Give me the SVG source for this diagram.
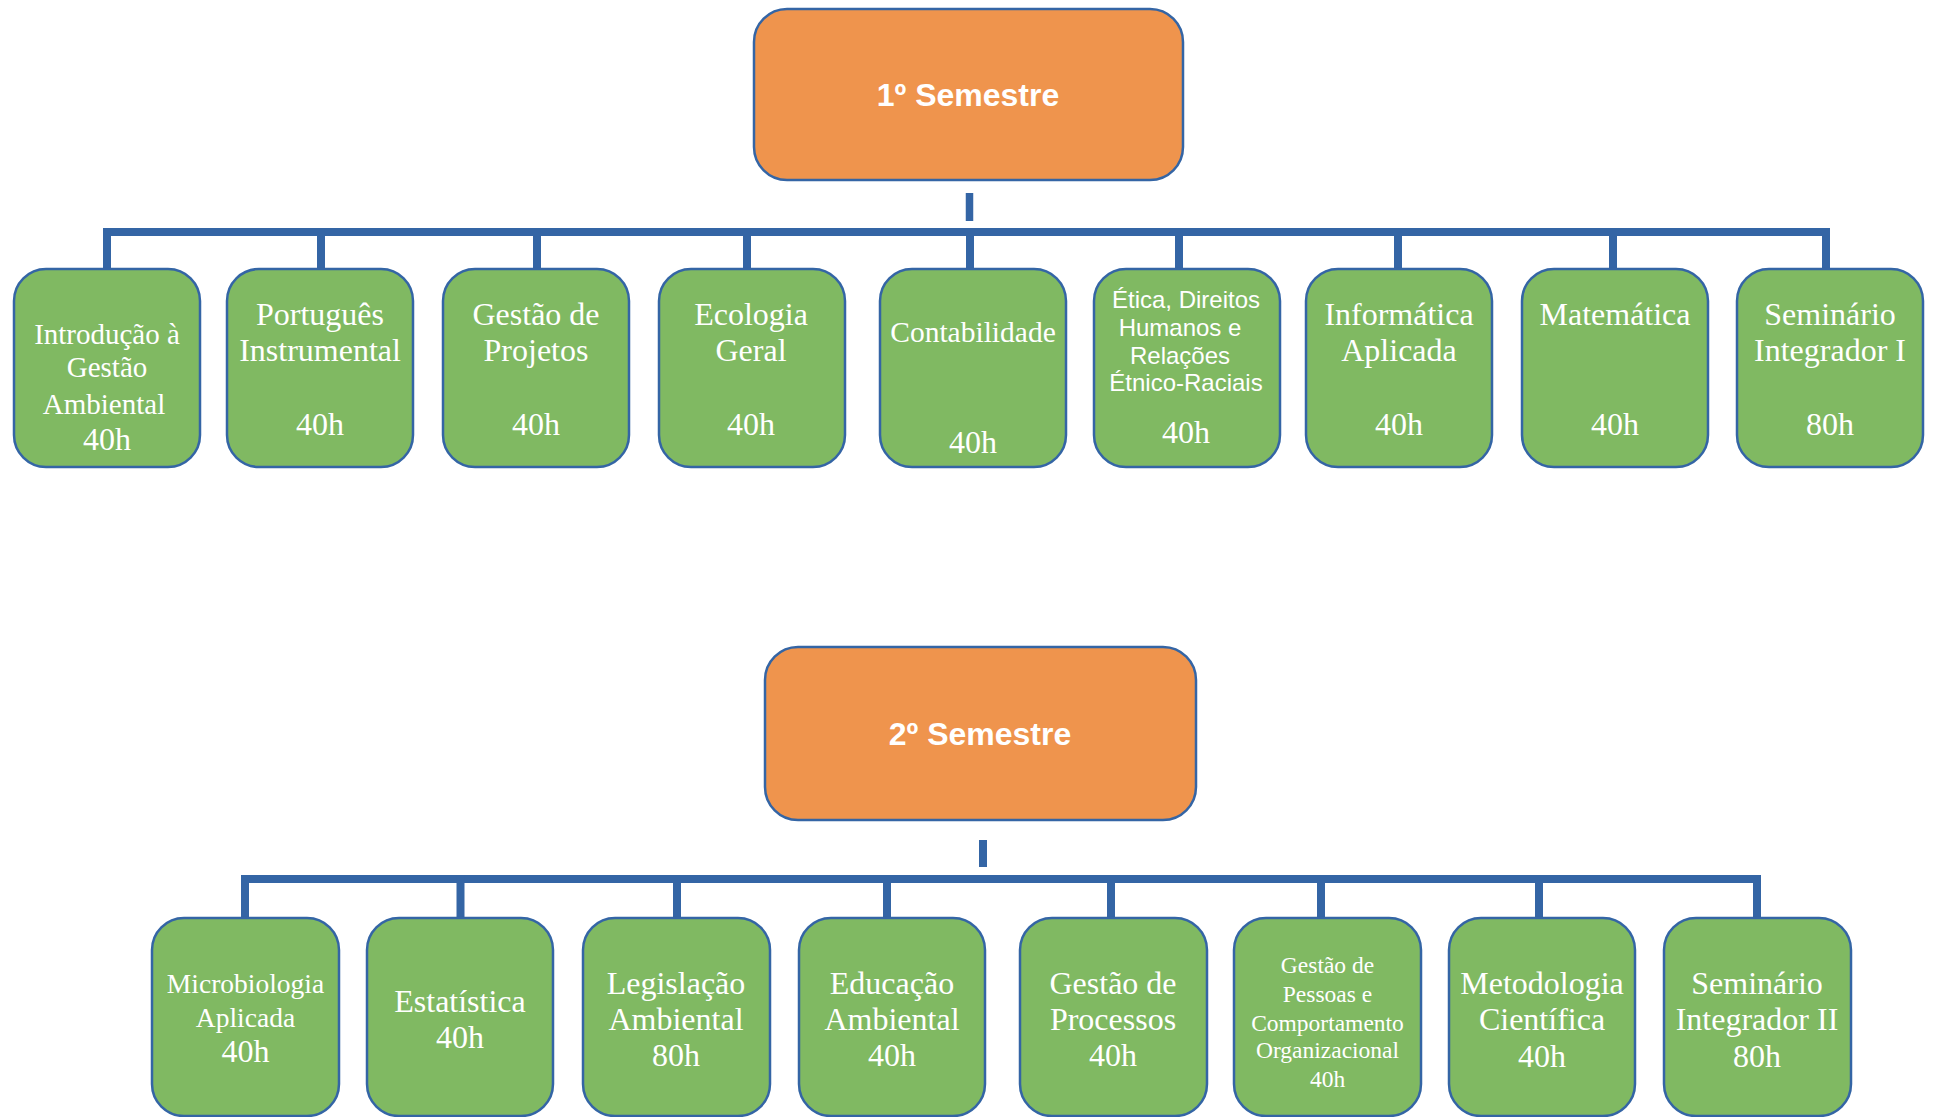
<svg xmlns="http://www.w3.org/2000/svg" width="1933" height="1117" viewBox="0 0 1933 1117">
<style>
.sem{fill:#ef944d;stroke:#3465a5;stroke-width:2.5}
.box{fill:#80b962;stroke:#3465a5;stroke-width:2.5}
.conn line{stroke:#3465a5;stroke-width:8;stroke-linecap:butt}
.t{font-family:"Liberation Serif","Times New Roman",serif;font-size:32px;fill:#fff;text-anchor:middle}
.t29{font-size:29px}
.t23{font-size:23.5px}
.s{font-family:"Liberation Sans",Arial,sans-serif;font-size:24px;fill:#fff;text-anchor:middle}
.h{font-family:"Liberation Sans",Arial,sans-serif;font-size:32px;font-weight:bold;fill:#fff;text-anchor:middle}
</style>
<rect width="1933" height="1117" fill="#fff"/>
<g id="connectors" class="conn">
<line x1="969.5" y1="193" x2="969.5" y2="221" style="stroke-width:7.5"/>
<line x1="103" y1="232" x2="1830" y2="232"/>
<line x1="107" y1="228" x2="107" y2="270"/>
<line x1="321" y1="228" x2="321" y2="270"/>
<line x1="537" y1="228" x2="537" y2="270"/>
<line x1="747" y1="228" x2="747" y2="270"/>
<line x1="970" y1="228" x2="970" y2="270"/>
<line x1="1179" y1="228" x2="1179" y2="270"/>
<line x1="1398" y1="228" x2="1398" y2="270"/>
<line x1="1613" y1="228" x2="1613" y2="270"/>
<line x1="1826" y1="228" x2="1826" y2="270"/>
<line x1="983" y1="840" x2="983" y2="867"/>
<line x1="241" y1="879" x2="1761" y2="879"/>
<line x1="245" y1="875" x2="245" y2="919"/>
<line x1="460.5" y1="875" x2="460.5" y2="919"/>
<line x1="677" y1="875" x2="677" y2="919"/>
<line x1="887" y1="875" x2="887" y2="919"/>
<line x1="1111" y1="875" x2="1111" y2="919"/>
<line x1="1321" y1="875" x2="1321" y2="919"/>
<line x1="1539" y1="875" x2="1539" y2="919"/>
<line x1="1757" y1="875" x2="1757" y2="919"/>
</g>
<g id="sem1"><rect class="sem" x="754" y="9" width="429" height="171" rx="33"/><text class="h" x="968" y="106">1º Semestre</text></g>
<g id="n1"><rect class="box" x="14" y="269" width="186" height="198" rx="32"/><text class="t"><tspan class="t29" x="107" y="344">Introdução à</tspan><tspan class="t29" x="107" y="377">Gestão</tspan><tspan class="t29" x="104" y="414">Ambiental</tspan><tspan x="107" y="450">40h</tspan></text></g>
<g id="n2"><rect class="box" x="227" y="269" width="186" height="198" rx="32"/><text class="t"><tspan x="320" y="325">Português</tspan><tspan x="320" y="361">Instrumental</tspan><tspan x="320" y="435">40h</tspan></text></g>
<g id="n3"><rect class="box" x="443" y="269" width="186" height="198" rx="32"/><text class="t"><tspan x="536" y="325">Gestão de</tspan><tspan x="536" y="361">Projetos</tspan><tspan x="536" y="435">40h</tspan></text></g>
<g id="n4"><rect class="box" x="659" y="269" width="186" height="198" rx="32"/><text class="t"><tspan x="751" y="325">Ecologia</tspan><tspan x="751" y="361">Geral</tspan><tspan x="751" y="435">40h</tspan></text></g>
<g id="n5"><rect class="box" x="880" y="269" width="186" height="198" rx="32"/><text class="t"><tspan style="font-size:29.5px" x="973" y="342">Contabilidade</tspan><tspan x="973" y="453">40h</tspan></text></g>
<g id="n6"><rect class="box" x="1094" y="269" width="186" height="198" rx="32"/><text class="s"><tspan x="1186" y="308">Ética, Direitos</tspan><tspan x="1180" y="336">Humanos e</tspan><tspan x="1180" y="364">Relações</tspan><tspan x="1186" y="391">Étnico-Raciais</tspan></text><text class="t" x="1186" y="443">40h</text></g>
<g id="n7"><rect class="box" x="1306" y="269" width="186" height="198" rx="32"/><text class="t"><tspan x="1399" y="325">Informática</tspan><tspan x="1399" y="361">Aplicada</tspan><tspan x="1399" y="435">40h</tspan></text></g>
<g id="n8"><rect class="box" x="1522" y="269" width="186" height="198" rx="32"/><text class="t"><tspan x="1615" y="325">Matemática</tspan><tspan x="1615" y="435">40h</tspan></text></g>
<g id="n9"><rect class="box" x="1737" y="269" width="186" height="198" rx="32"/><text class="t"><tspan x="1830" y="325">Seminário</tspan><tspan x="1830" y="361">Integrador I</tspan><tspan x="1830" y="435">80h</tspan></text></g>
<g id="sem2"><rect class="sem" x="765" y="647" width="431" height="173" rx="33"/><text class="h" x="980" y="745">2º Semestre</text></g>
<g id="m1"><rect class="box" x="152" y="918" width="187" height="198" rx="32"/><text class="t"><tspan style="font-size:27.5px" x="245.5" y="993">Microbiologia</tspan><tspan style="font-size:27.5px" x="245.5" y="1027">Aplicada</tspan><tspan x="245.5" y="1062">40h</tspan></text></g>
<g id="m2"><rect class="box" x="367" y="918" width="186" height="198" rx="32"/><text class="t"><tspan x="460" y="1012">Estatística</tspan><tspan x="460" y="1048">40h</tspan></text></g>
<g id="m3"><rect class="box" x="583" y="918" width="187" height="198" rx="32"/><text class="t"><tspan x="676" y="994">Legislação</tspan><tspan x="676" y="1030">Ambiental</tspan><tspan x="676" y="1066">80h</tspan></text></g>
<g id="m4"><rect class="box" x="799" y="918" width="186" height="198" rx="32"/><text class="t"><tspan x="892" y="994">Educação</tspan><tspan x="892" y="1030">Ambiental</tspan><tspan x="892" y="1066">40h</tspan></text></g>
<g id="m5"><rect class="box" x="1020" y="918" width="187" height="198" rx="32"/><text class="t"><tspan x="1113" y="994">Gestão de</tspan><tspan x="1113" y="1030">Processos</tspan><tspan x="1113" y="1066">40h</tspan></text></g>
<g id="m6"><rect class="box" x="1234" y="918" width="187" height="198" rx="32"/><text class="t t23"><tspan x="1327.5" y="973">Gestão de</tspan><tspan x="1327.5" y="1002">Pessoas e</tspan><tspan x="1327.5" y="1031">Comportamento</tspan><tspan x="1327.5" y="1058">Organizacional</tspan><tspan x="1327.5" y="1087">40h</tspan></text></g>
<g id="m7"><rect class="box" x="1449" y="918" width="186" height="198" rx="32"/><text class="t"><tspan x="1542" y="994">Metodologia</tspan><tspan x="1542" y="1030">Científica</tspan><tspan x="1542" y="1067">40h</tspan></text></g>
<g id="m8"><rect class="box" x="1664" y="918" width="187" height="198" rx="32"/><text class="t"><tspan x="1757" y="994">Seminário</tspan><tspan x="1757" y="1030">Integrador II</tspan><tspan x="1757" y="1067">80h</tspan></text></g>
</svg>
